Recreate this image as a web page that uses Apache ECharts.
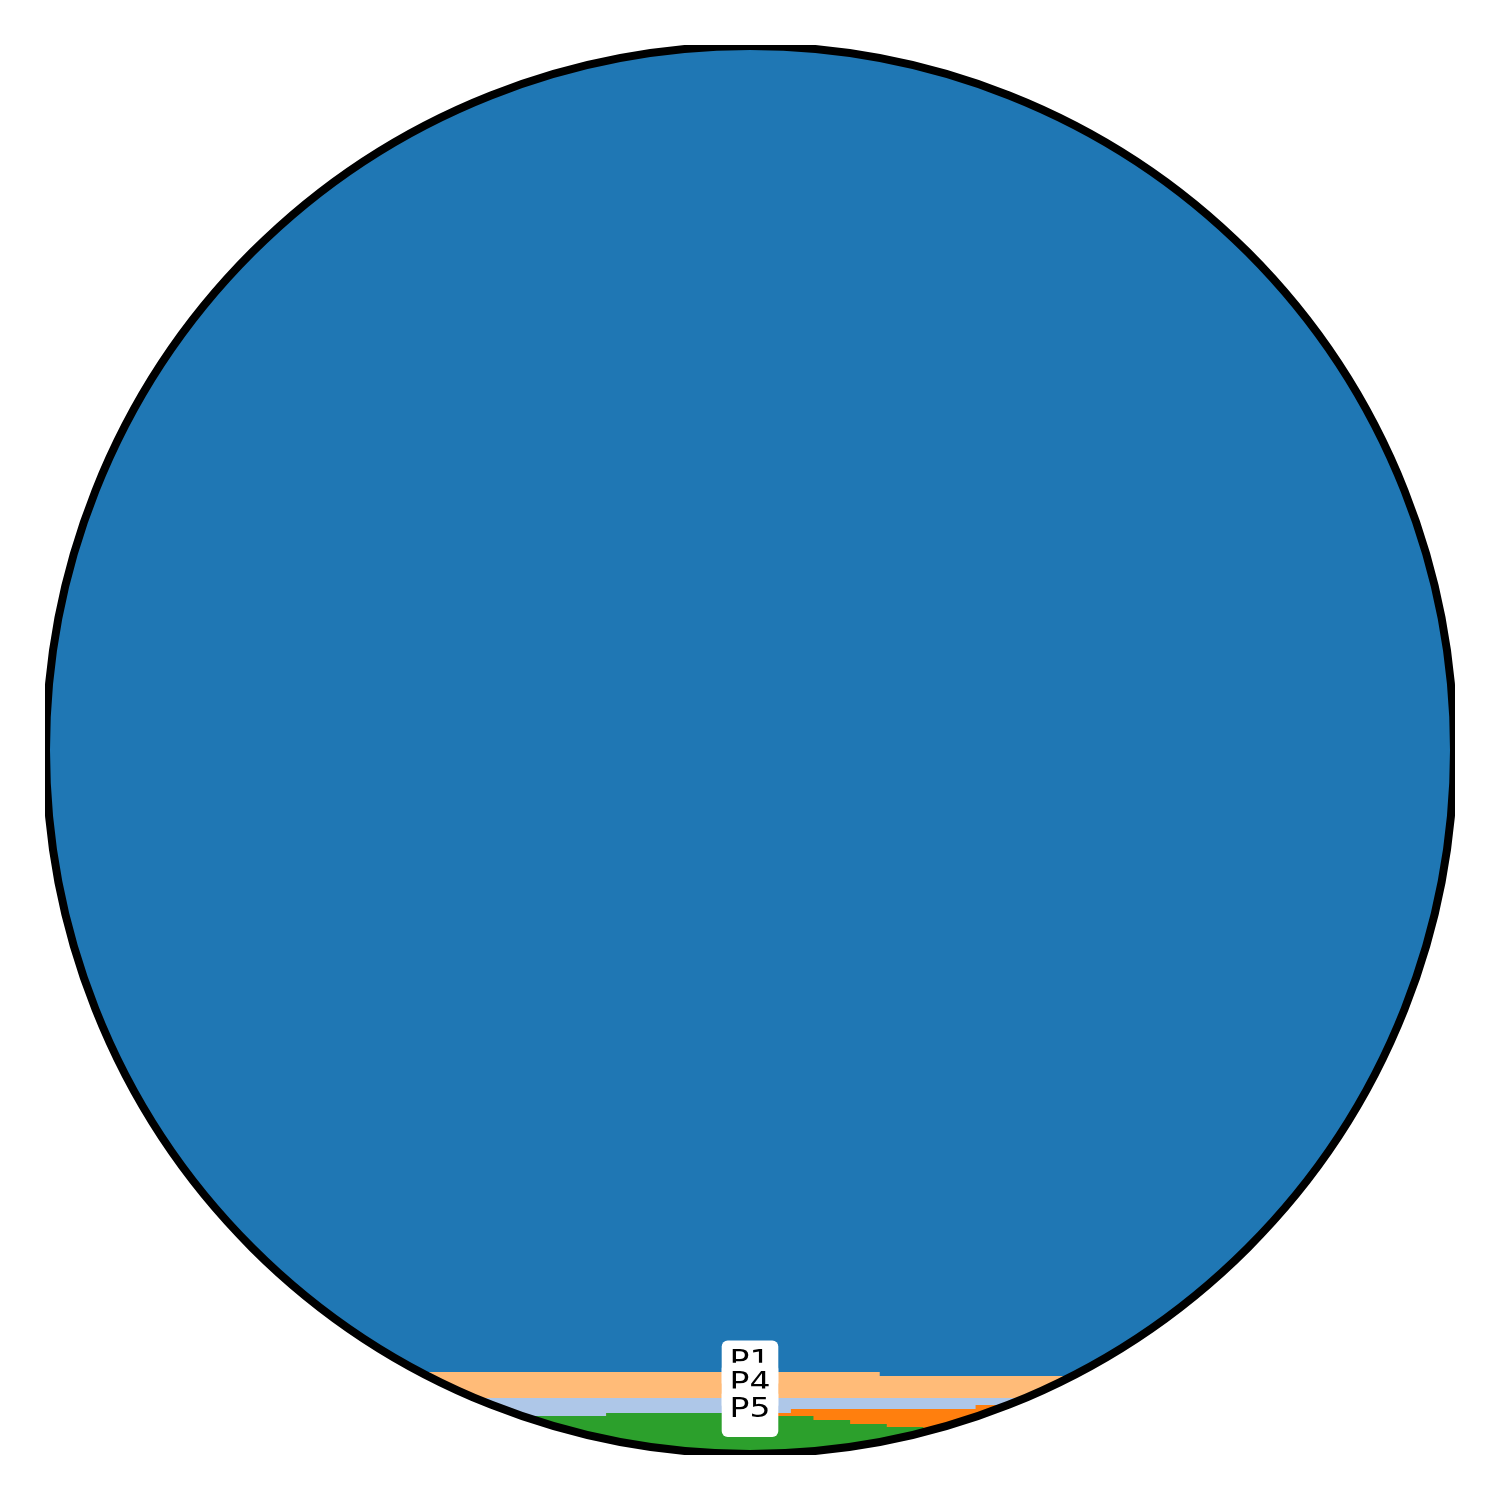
<!DOCTYPE html>
<html>
<head>
<meta charset="utf-8">
<script src="https://cdn.jsdelivr.net/npm/echarts@6/dist/echarts.min.js"></script>
<style>
html,body{margin:0;padding:0;background:#fff;}
#chart{width:1500px;height:1500px;}
</style>
</head>
<body>
<div id="chart"></div>
<script>
// Breakpoints along the horizontal axis (0..100)
var xs = [0, 39.8, 50, 52.9, 54.5, 57.1, 59.2, 59.7, 62.3, 66.0, 100];
// Stacked shares (%) per segment, bottom to top
var p5 = [2.77, 2.98, 2.77, 2.77, 2.48, 2.20, 2.20, 1.99, 1.77, 1.56, 1.56];
var p3 = [0.00, 0.00, 0.21, 0.50, 0.78, 1.06, 1.06, 1.28, 1.49, 1.99, 1.99];
var p2 = [1.28, 1.06, 1.06, 0.78, 0.78, 0.78, 0.78, 0.78, 0.78, 0.50, 0.50];
var p4 = [1.84, 1.84, 1.84, 1.84, 1.84, 1.84, 1.56, 1.56, 1.56, 1.56, 1.56];
var p1 = [94.12, 94.12, 94.12, 94.12, 94.12, 94.12, 94.41, 94.41, 94.41, 94.41, 94.41];

var labelNames = ['P1', 'P4', 'P5'];
var labelX = [50, 50, 50];
var labelY = [6.78, 5.20, 3.36];

// bottom-to-top stacking order
var layers = [
  {name: 'P5', vals: p5, color: '#2ca02c'},
  {name: 'P3', vals: p3, color: '#ff7f0e'},
  {name: 'P2', vals: p2, color: '#aec7e8'},
  {name: 'P4', vals: p4, color: '#ffbb78'},
  {name: 'P1', vals: p1, color: '#1f77b4'}
];

// cumulative tops of each layer
var running = xs.map(function () { return 0; });
layers.forEach(function (l) {
  l.tops = l.vals.map(function (v, i) { running[i] += v; return running[i]; });
});

// draw top layer first so lower layers paint over it
var series = layers.slice().reverse().map(function (l) {
  return {
    name: l.name,
    type: 'line',
    step: 'end',
    symbol: 'none',
    silent: true,
    animation: false,
    lineStyle: {width: 0, color: l.color},
    itemStyle: {color: l.color},
    areaStyle: {color: l.color, opacity: 1, origin: 'start'},
    data: xs.map(function (x, i) { return [x, l.tops[i]]; })
  };
});

var chart = echarts.init(document.getElementById('chart'), null, {renderer: 'canvas'});
chart.setOption({
  backgroundColor: '#fff',
  animation: false,
  grid: {left: 45, top: 45, width: 1410, height: 1410, containLabel: false},
  xAxis: {type: 'value', min: 0, max: 100, show: false},
  yAxis: {type: 'value', min: 0, max: 100, show: false},
  series: series
});

// labels: white rounded boxes with widened text, positioned via the chart's scales;
// each later label (box + text) is drawn over the earlier one
var labelEls = [];
labelNames.forEach(function (n, i) {
  var p = chart.convertToPixel({gridIndex: 0}, [labelX[i], labelY[i]]);
  labelEls.push({type: 'rect', z: 50 + 2 * i, silent: true,
    shape: {x: p[0] - 28.3, y: p[1] - 19, width: 56.6, height: 48.3, r: 6}, style: {fill: '#fff'}});
  labelEls.push({type: 'text', z: 51 + 2 * i, silent: true, x: p[0], y: p[1] + 2.5, scaleX: 1.27,
    style: {text: n, font: '26px "DejaVu Sans"', fill: '#000', align: 'center', verticalAlign: 'middle'}});
});

var frame = [
  {type: 'ring', z: 100, silent: true, shape: {cx: 750, cy: 750, r0: 704, r: 1100}, style: {fill: '#fff'}},
  {type: 'circle', z: 101, silent: true, shape: {cx: 750, cy: 750, r: 704}, style: {fill: null, stroke: '#000', lineWidth: 8}},
  {type: 'rect', z: 102, silent: true, shape: {x: 0, y: 0, width: 1500, height: 45}, style: {fill: '#fff'}},
  {type: 'rect', z: 102, silent: true, shape: {x: 0, y: 1455, width: 1500, height: 45}, style: {fill: '#fff'}},
  {type: 'rect', z: 102, silent: true, shape: {x: 0, y: 0, width: 45, height: 1500}, style: {fill: '#fff'}},
  {type: 'rect', z: 102, silent: true, shape: {x: 1455, y: 0, width: 45, height: 1500}, style: {fill: '#fff'}}
];

chart.setOption({graphic: labelEls.concat(frame)});
</script>
</body>
</html>
